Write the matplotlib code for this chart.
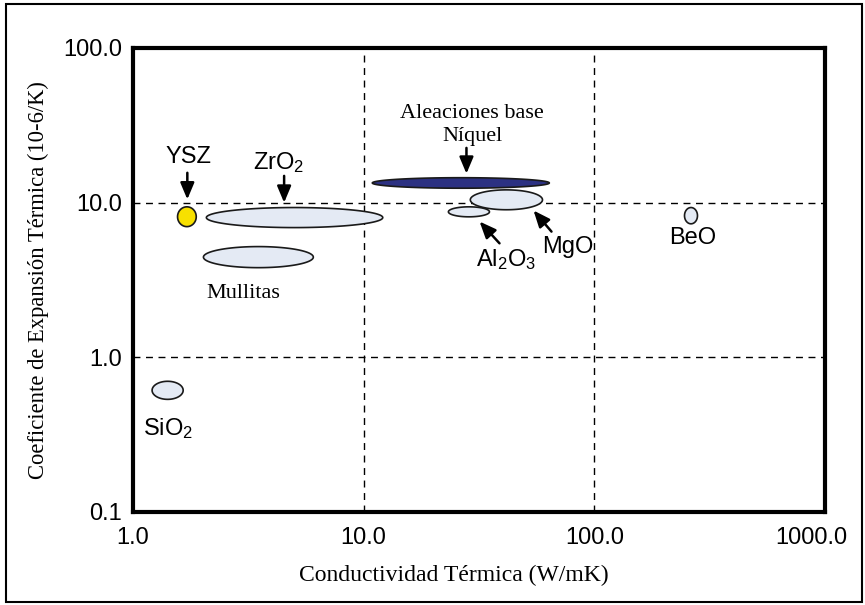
import numpy as np
import matplotlib
matplotlib.use("Agg")
import matplotlib.pyplot as plt
from matplotlib.patches import Rectangle
from matplotlib.ticker import NullLocator
from matplotlib.transforms import ScaledTranslation

plt.rcParams['mathtext.fontset'] = 'custom'
plt.rcParams['mathtext.rm'] = 'Liberation Sans'
plt.rcParams['mathtext.it'] = 'Liberation Sans'

# property ranges of each material: thermal conductivity (W/mK) and CTE (10-6/K)
materials = ['SiO2', 'YSZ', 'ZrO2', 'Mullitas', 'Niquel', 'MgO', 'BeO', 'Al2O3']
k_low = [1.21, 1.56, 2.08, 2.02, 10.9, 29.0, 246.0, 23.3]
k_high = [1.65, 1.88, 12.1, 6.05, 63.8, 59.6, 280.0, 35.1]
cte_low = [0.535, 7.0, 6.9, 3.8, 12.4, 9.0, 7.3, 8.1]
cte_high = [0.70, 9.4, 9.3, 5.2, 14.5, 12.1, 9.3, 9.4]
face = ['#e4eaf4', '#f7e000', '#e4eaf4', '#e4eaf4', '#2c3182', '#e4eaf4', '#e4eaf4', '#e4eaf4']

x_ticks = [1, 10, 100, 1000]
x_tick_labels = ['1.0', '10.0', '100.0', '1000.0']
y_ticks = [0.1, 1, 10, 100]
y_tick_labels = ['0.1', '1.0', '10.0', '100.0']

fig = plt.figure(figsize=(8.65, 6.05), dpi=100)
ax = fig.add_axes([133 / 865, 1 - 512 / 605, (825 - 133) / 865, (512 - 48) / 605])
ax.set_xscale('log')
ax.set_yscale('log')
ax.set_xlim(1, 1000)
ax.set_ylim(0.1, 100)

# ellipses drawn in log space so they stay ellipses on the log-log axes
t = np.linspace(0, 2 * np.pi, 300)
for i in range(len(materials)):
    lx0, lx1 = np.log10(k_low[i]), np.log10(k_high[i])
    ly0, ly1 = np.log10(cte_low[i]), np.log10(cte_high[i])
    xs = 10 ** ((lx0 + lx1) / 2 + (lx1 - lx0) / 2 * np.cos(t))
    ys = 10 ** ((ly0 + ly1) / 2 + (ly1 - ly0) / 2 * np.sin(t))
    ax.fill(xs, ys, facecolor=face[i], edgecolor='#1a1a1a', lw=1.2, zorder=3)

ax.set_axisbelow(True)
ax.grid(True, which='major', color='k', ls=(0, (5, 4)), lw=1)
ax.xaxis.set_minor_locator(NullLocator())
ax.yaxis.set_minor_locator(NullLocator())
ax.set_xticks(x_ticks)
ax.set_xticklabels(x_tick_labels)
ax.set_yticks(y_ticks)
ax.set_yticklabels(y_tick_labels)
ax.tick_params(length=0, labelsize=17)
ax.tick_params(axis='x', pad=11)
ax.tick_params(axis='y', pad=8)
for lab in ax.get_xticklabels() + ax.get_yticklabels():
    lab.set_fontfamily('Liberation Sans')
# keep the last x label inside the frame
last = ax.get_xticklabels()[-1]
last.set_transform(last.get_transform() + ScaledTranslation(-0.14, 0, fig.dpi_scale_trans))
for sp in ax.spines.values():
    sp.set_linewidth(3)

ax.set_xlabel('Conductividad Térmica (W/mK)', fontfamily='Liberation Serif',
              fontsize=17, labelpad=8)
ax.xaxis.set_label_coords(0.464, -0.115)
ax.set_ylabel('Coeficiente de Expansión Térmica (10-6/K)', fontfamily='Liberation Serif',
              fontsize=16.3, labelpad=10)

sans = dict(fontfamily='Liberation Sans', fontsize=17, ha='center', va='center')
serif = dict(fontfamily='Liberation Serif', fontsize=16, ha='center', va='center')
arrow = dict(arrowstyle='-|>,head_length=1.0,head_width=0.42', color='k', lw=1.8,
             shrinkA=0, shrinkB=0)

ax.text(1.74, 19.6, 'YSZ', **sans)
ax.annotate('', xy=(1.72, 10.5), xytext=(1.72, 15.6), arrowprops=arrow)
ax.text(4.3, 18.2, 'ZrO$_2$', **sans)
ax.annotate('', xy=(4.52, 10.0), xytext=(4.52, 14.9), arrowprops=arrow)
ax.text(29.4, 37.8, 'Aleaciones base', **serif)
ax.text(29.6, 26.8, 'Níquel', **serif)
ax.annotate('', xy=(27.9, 15.4), xytext=(27.9, 22.6), arrowprops=arrow)
ax.text(41.6, 4.3, 'Al$_2$O$_3$', **sans)
ax.annotate('', xy=(31.8, 7.55), xytext=(38.8, 5.46), arrowprops=arrow)
ax.text(76.4, 5.2, 'MgO', **sans)
ax.annotate('', xy=(54.5, 8.9), xytext=(65.2, 6.5), arrowprops=arrow)
ax.text(267, 5.9, 'BeO', **sans)
ax.text(3.0, 2.6, 'Mullitas', **serif)
ax.text(1.42, 0.344, 'SiO$_2$', **sans)

# outer frame around the whole figure
fig.add_artist(Rectangle((6 / 865, 3 / 605), 856 / 865, 598 / 605, transform=fig.transFigure,
                         fill=False, ec='k', lw=1.5))

fig.savefig('out.png', dpi=100)
